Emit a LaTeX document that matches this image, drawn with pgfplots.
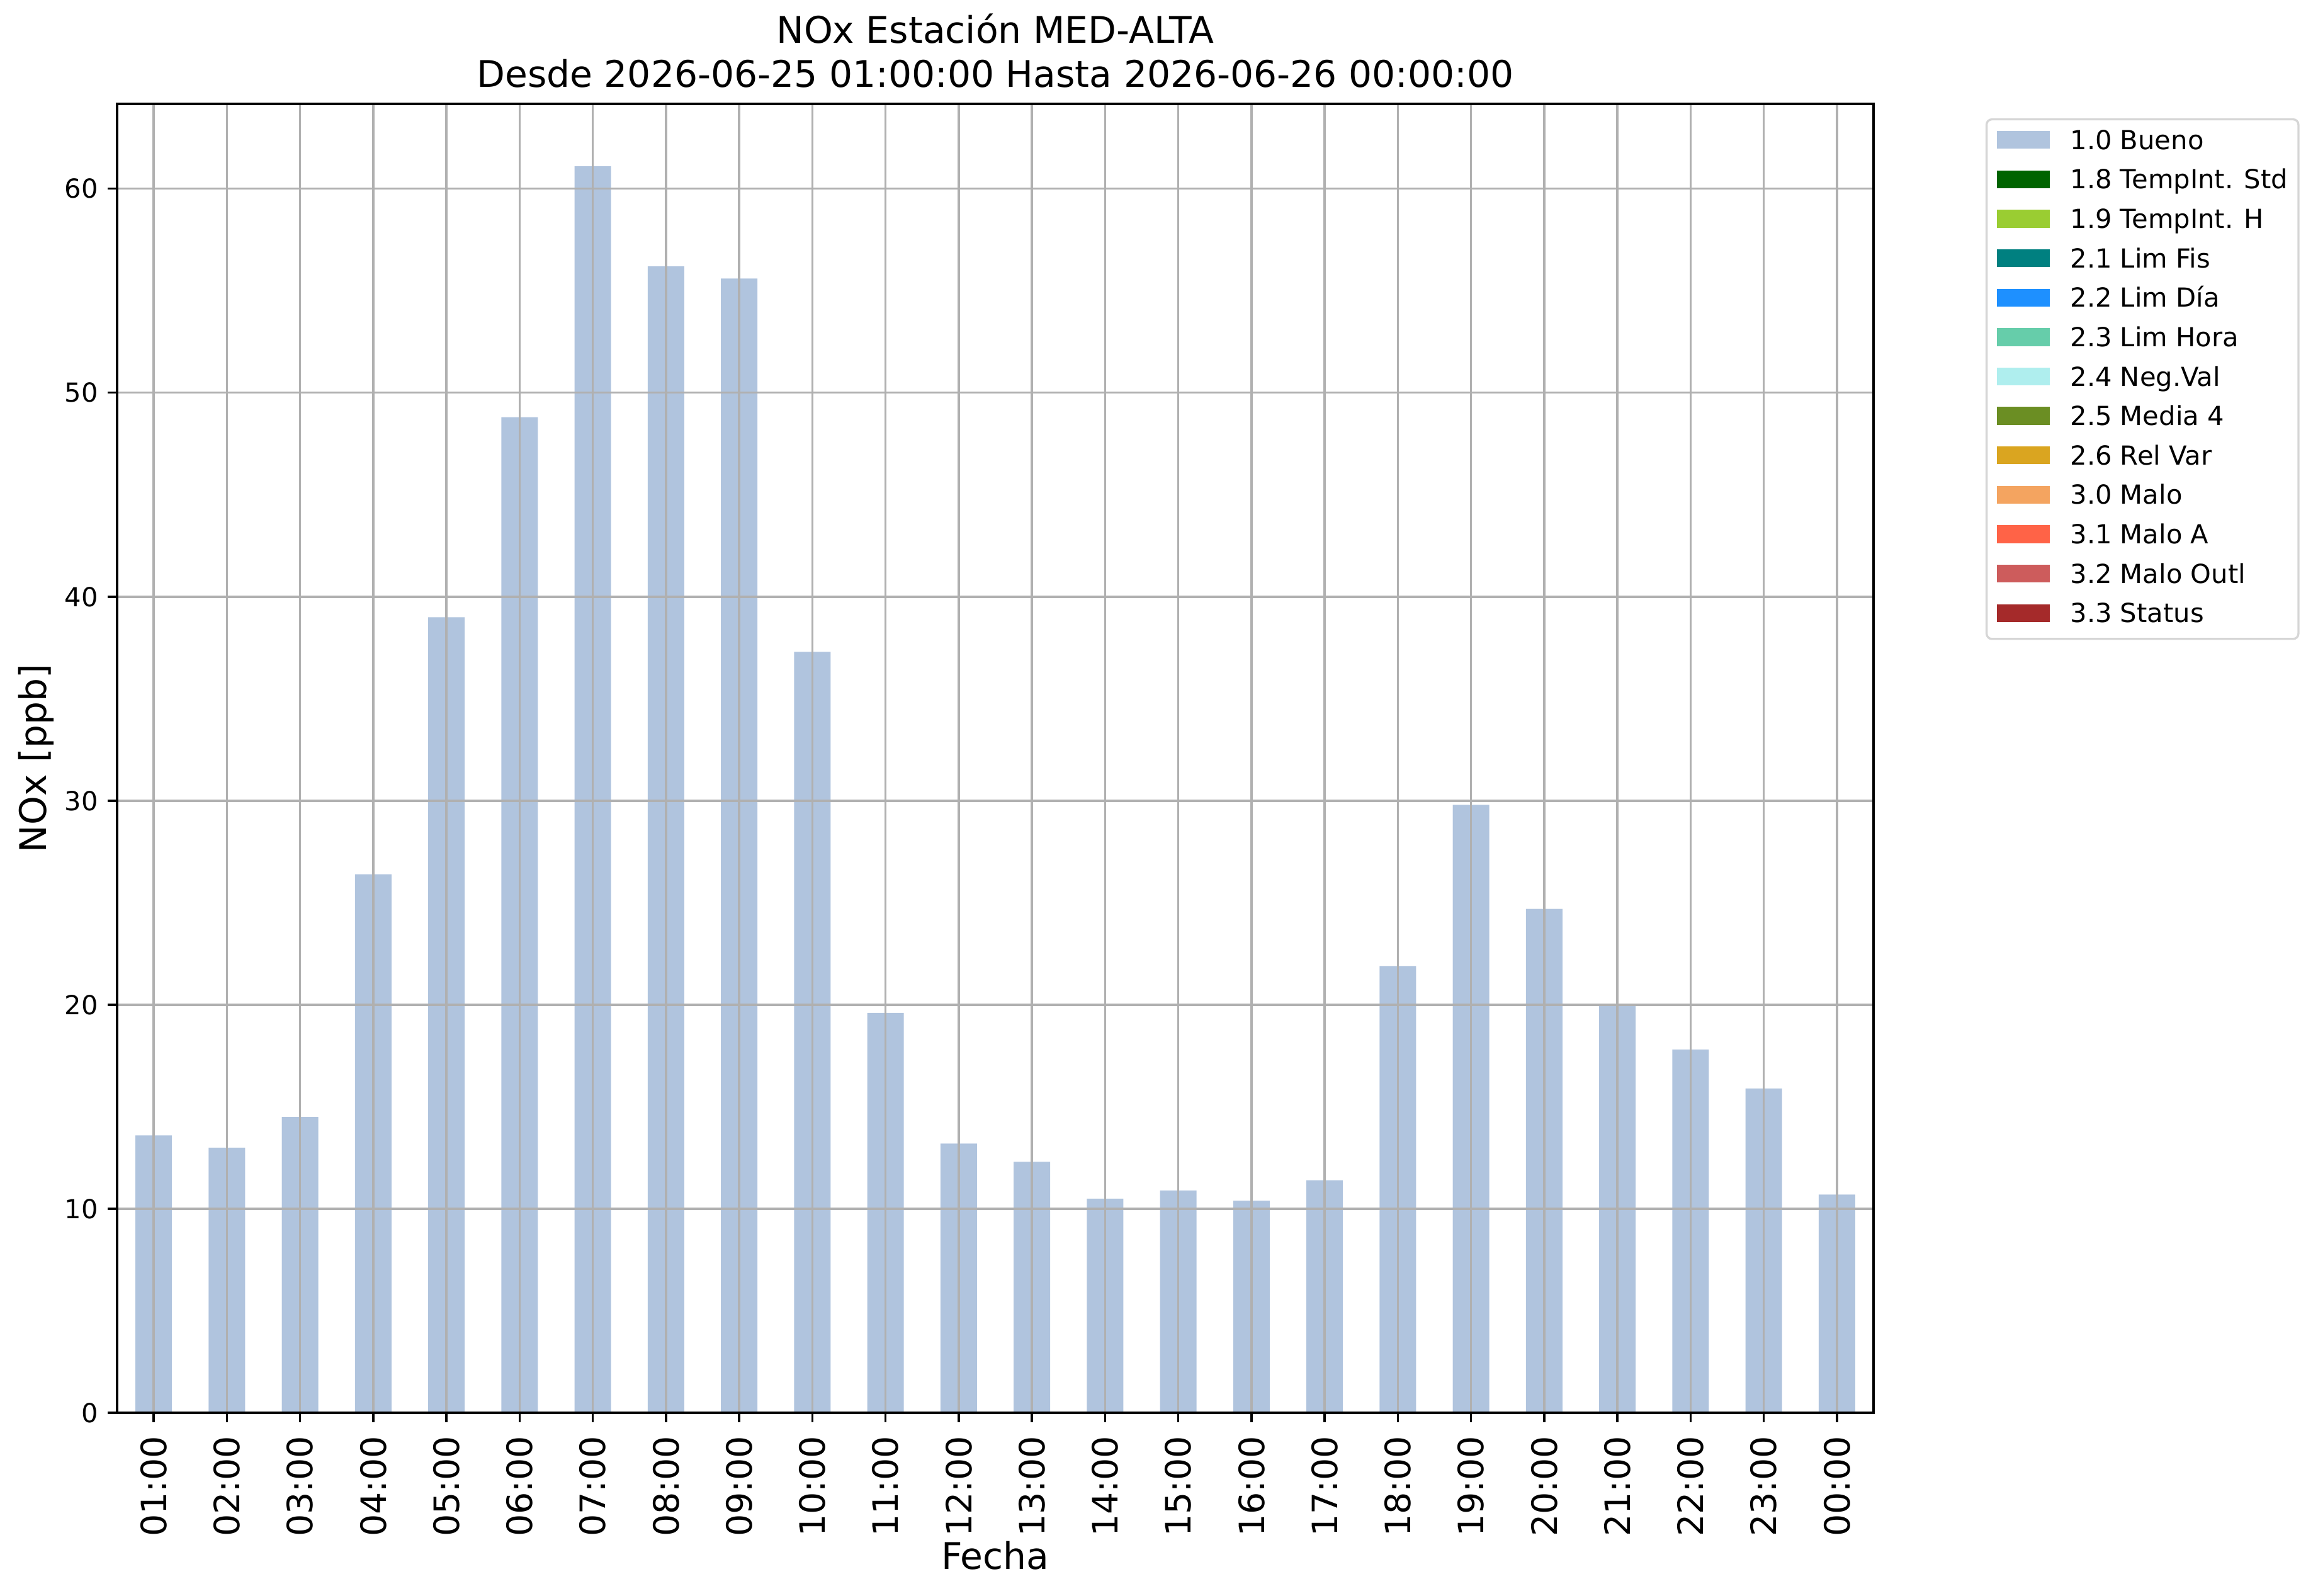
\documentclass[border=0pt]{standalone}
\usepackage{fontspec}
\setmainfont{DejaVu Sans}
\usepackage{pgfplots}
\pgfplotsset{compat=1.18}
\definecolor{lsb}{HTML}{B0C4DE}
\definecolor{cdg}{HTML}{006400}
\definecolor{cyg}{HTML}{9ACD32}
\definecolor{cteal}{HTML}{008080}
\definecolor{cdb}{HTML}{1E90FF}
\definecolor{cma}{HTML}{66CDAA}
\definecolor{cpt}{HTML}{AFEEEE}
\definecolor{cod}{HTML}{6B8E23}
\definecolor{cgr}{HTML}{DAA520}
\definecolor{csb}{HTML}{F4A460}
\definecolor{ctom}{HTML}{FF6347}
\definecolor{cir}{HTML}{CD5C5C}
\definecolor{cbr}{HTML}{A52A2A}
\definecolor{gridc}{HTML}{B0B0B0}
\definecolor{legc}{HTML}{D6D6D6}
\begin{document}
\begin{tikzpicture}
\path[use as bounding box] (0,0) rectangle (883.68pt,608.16pt);
\begin{axis}[
  at={(44.64pt,69.6pt)}, anchor=south west,
  scale only axis, width=669.6pt, height=498.96pt,
  xmin=-0.5, xmax=23.5, ymin=0, ymax=64.16,
  xtick={0,...,23},
  xticklabels={01:00,02:00,03:00,04:00,05:00,06:00,07:00,08:00,09:00,10:00,11:00,12:00,13:00,14:00,15:00,16:00,17:00,18:00,19:00,20:00,21:00,22:00,23:00,00:00},
  ytick={0,10,20,30,40,50,60},
  /pgf/number format/assume math mode=true,
  xticklabel style={rotate=90, anchor=east, inner sep=0pt, font=\fontsize{13.3}{16}\selectfont},
  yticklabel style={anchor=east, inner sep=0pt, font=\fontsize{10}{12}\selectfont},
  xticklabel shift=5.2pt,
  yticklabel shift=3.6pt,
  xtick pos=left, ytick pos=left,
  tick align=outside,
  major tick length=3.5pt,
  every tick/.style={black, line width=0.8pt},
  axis line style={line width=0.8pt},
  grid=major,
  major grid style={color=gridc, line width=0.8pt},
  axis on top,
  title={NOx Estación MED-ALTA\\Desde 2026-06-25 01:00:00 Hasta 2026-06-26 00:00:00},
  title style={at={(axis description cs:0.5,1)}, anchor=south, inner sep=0pt, yshift=0pt, align=center, font=\fontsize{14}{16.8}\selectfont},
  xlabel={Fecha},
  ylabel={NOx [ppb]},
  every axis x label/.style={at={(axis description cs:0.5,-0.11957)}, anchor=base, inner sep=0pt, font=\fontsize{14}{16.8}\selectfont},
  every axis y label/.style={at={(axis description cs:-0.04014,0.5)}, rotate=90, anchor=base, inner sep=0pt, font=\fontsize{14}{16.8}\selectfont},
  legend image code/.code={\fill[#1, draw=none, sharp corners] (0pt,-2.4pt) rectangle (20pt,4.4pt);},
  legend cell align=left,
  legend style={at={(axis description cs:1,1)}, anchor=north west, xshift=42.7pt, yshift=-5.5pt,
    draw=legc, line width=0.8pt, fill=white, rounded corners=2pt,
    inner xsep=4pt, inner ysep=3.85pt, row sep=5.03pt, column sep=7.9pt,
    font=\fontsize{10}{12}\selectfont,
    nodes={inner sep=0pt, text height=7.6pt, text depth=2.4pt}},
]
\addplot[ybar, bar width=0.5, bar shift=0pt, fill=lsb, draw=none, forget plot] coordinates {
(0,13.6) (1,13.0) (2,14.5) (3,26.4) (4,39.0) (5,48.8) (6,61.1) (7,56.2) (8,55.6) (9,37.3) (10,19.6) (11,13.2)
(12,12.3) (13,10.5) (14,10.9) (15,10.4) (16,11.4) (17,21.9) (18,29.8) (19,24.7) (20,20.0) (21,17.8) (22,15.9) (23,10.7)};
\addlegendimage{fill=lsb}\addlegendentry{1.0 Bueno}
\addlegendimage{fill=cdg}\addlegendentry{1.8 TempInt. Std}
\addlegendimage{fill=cyg}\addlegendentry{1.9 TempInt. H}
\addlegendimage{fill=cteal}\addlegendentry{2.1 Lim Fis}
\addlegendimage{fill=cdb}\addlegendentry{2.2 Lim Día}
\addlegendimage{fill=cma}\addlegendentry{2.3 Lim Hora}
\addlegendimage{fill=cpt}\addlegendentry{2.4 Neg.Val}
\addlegendimage{fill=cod}\addlegendentry{2.5 Media 4}
\addlegendimage{fill=cgr}\addlegendentry{2.6 Rel Var}
\addlegendimage{fill=csb}\addlegendentry{3.0 Malo}
\addlegendimage{fill=ctom}\addlegendentry{3.1 Malo A}
\addlegendimage{fill=cir}\addlegendentry{3.2 Malo Outl}
\addlegendimage{fill=cbr}\addlegendentry{3.3 Status}
\end{axis}
\end{tikzpicture}
\end{document}
